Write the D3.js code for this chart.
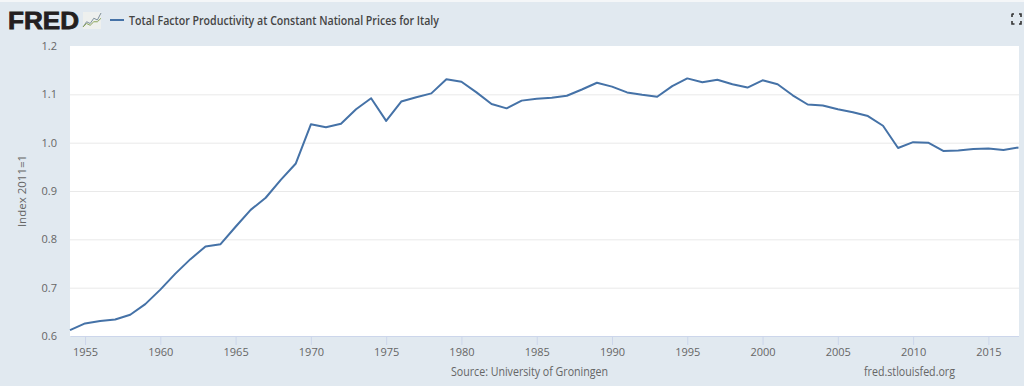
<!DOCTYPE html>
<html>
<head>
<meta charset="utf-8">
<script src="https://cdn.jsdelivr.net/npm/d3@7"></script>
<style>
    html, body { margin: 0; padding: 0; background: #e1e9f0; overflow: hidden; }
    text { font-family: "Open Sans", sans-serif; }
</style>
</head>
<body>
<div id="chart"></div>
<script>
const years = d3.range(1954, 2018);
const tfp = [
    0.612, 0.626, 0.631, 0.634, 0.644, 0.666, 0.696, 0.729, 0.759, 0.785,
    0.790, 0.826, 0.861, 0.886, 0.923, 0.957, 1.038, 1.032, 1.039, 1.069,
    1.092, 1.045, 1.085, 1.094, 1.102, 1.131, 1.126, 1.104, 1.080, 1.071,
    1.087, 1.091, 1.093, 1.097, 1.110, 1.124, 1.116, 1.104, 1.099, 1.095,
    1.117, 1.133, 1.125, 1.130, 1.121, 1.114, 1.129, 1.121, 1.098, 1.079,
    1.077, 1.069, 1.063, 1.055, 1.035, 0.989, 1.001, 1.000, 0.983, 0.984,
    0.987, 0.988, 0.985, 0.990
];
const xTicks = [1955, 1960, 1965, 1970, 1975, 1980, 1985, 1990, 1995, 2000, 2005, 2010, 2015];
const yTicks = [0.6, 0.7, 0.8, 0.9, 1.0, 1.1, 1.2];
const iconUp = [0, 3, 2, 5, 4, 8];
const iconLow = [0, 2, 1, 3, 3, 5];

const w = 1024, h = 386;
const margin = { top: 46, right: 5, bottom: 50, left: 70 };
const blue = "#4572a7";

const svg = d3.select("#chart").append("svg")
    .attr("width", w)
    .attr("height", h)
    .style("display", "block");

svg.append("rect").attr("width", w).attr("height", 2).attr("fill", "#f4f6f8");

svg.append("rect")
    .attr("x", margin.left)
    .attr("y", margin.top)
    .attr("width", w - margin.left - margin.right)
    .attr("height", h - margin.top - margin.bottom)
    .attr("fill", "#fff");

// Scales
const x = d3.scaleLinear()
    .domain([1954, 2017])
    .range([margin.left, w - margin.right - 0.5]);

const y = d3.scaleLinear()
    .domain([0.6, 1.2])
    .range([h - margin.bottom, margin.top]);

// Gridlines and y labels
const yAxis = svg.append("g")
    .attr("transform", `translate(${margin.left},0)`)
    .call(d3.axisLeft(y).tickValues(yTicks).tickFormat(d3.format(".1f")).tickSize(0).tickPadding(13));
yAxis.select(".domain").remove();
yAxis.selectAll("text")
    .attr("fill", "#666")
    .style("font-size", "11px")
    .style("font-family", '"Open Sans", sans-serif');
yAxis.selectAll(".tick").filter(d => d > 0.6 && d < 1.2).append("line")
    .attr("x2", w - margin.left - margin.right)
    .attr("stroke", "#e9e9e9");

// X axis
const xAxis = svg.append("g")
    .attr("transform", `translate(0,${h - margin.bottom})`)
    .call(d3.axisBottom(x).tickValues(xTicks).tickFormat(d3.format("d")).tickSize(9).tickPadding(3).tickSizeOuter(0));
xAxis.select(".domain").attr("stroke", "#ccd6eb");
xAxis.selectAll("line").attr("stroke", "#ccd6eb");
xAxis.selectAll("text")
    .attr("fill", "#666")
    .style("font-size", "11px")
    .style("font-family", '"Open Sans", sans-serif');

// Series line
const line = d3.line()
    .x((d, i) => x(years[i]))
    .y(d => y(d));

svg.append("path")
    .datum(tfp)
    .attr("d", line)
    .attr("fill", "none")
    .attr("stroke", blue)
    .attr("stroke-width", 2)
    .attr("stroke-linejoin", "round");

// Axis title
svg.append("text")
    .attr("transform", "translate(26,191) rotate(-90)")
    .attr("text-anchor", "middle")
    .attr("fill", "#666")
    .style("font-size", "11.5px")
    .text("Index 2011=1");

// Header
svg.append("text")
    .attr("x", 8)
    .attr("y", 29)
    .attr("textLength", 71)
    .attr("lengthAdjust", "spacingAndGlyphs")
    .attr("fill", "#231f20")
    .attr("stroke", "#231f20")
    .attr("stroke-width", 0.8)
    .style("font-family", '"Liberation Sans", sans-serif')
    .style("font-weight", "bold")
    .style("font-size", "24px")
    .text("FRED");

// Small logo chart
const icon = svg.append("g").attr("transform", "translate(83,12)");
icon.append("rect").attr("width", 18).attr("height", 17).attr("fill", "#eef0ee");
const ix = d3.scaleLinear().domain([0, 5]).range([0, 18]);
const iy = d3.scaleLinear().domain([0, 8]).range([15, 1]);
const iconLine = d3.line().x((d, i) => ix(i)).y(d => iy(d));
icon.append("path").attr("d", iconLine(iconUp)).attr("fill", "none").attr("stroke", "#7d8f9b").attr("stroke-width", 1);
icon.append("path").attr("d", iconLine(iconLow)).attr("fill", "none").attr("stroke", "#8aa55a").attr("stroke-width", 1);

svg.append("line")
    .attr("x1", 110).attr("x2", 124)
    .attr("y1", 20).attr("y2", 20)
    .attr("stroke", blue)
    .attr("stroke-width", 2);

svg.append("text")
    .attr("x", 129)
    .attr("y", 25)
    .attr("textLength", 310)
    .attr("lengthAdjust", "spacingAndGlyphs")
    .attr("fill", "#444")
    .style("font-size", "13px")
    .style("font-weight", 600)
    .text("Total Factor Productivity at Constant National Prices for Italy");

// Fullscreen icon
svg.append("path")
    .attr("d", "M1014 14h-1.5a1 1 0 0 0-.5.5v2.5M1019 14h2v3M1012 21v3h2.5M1021 21v3h-2")
    .attr("fill", "none")
    .attr("stroke", "#333")
    .attr("stroke-width", 1.6);

// Footer
svg.append("text")
    .attr("x", 451)
    .attr("y", 376)
    .attr("textLength", 157)
    .attr("lengthAdjust", "spacingAndGlyphs")
    .attr("fill", "#666")
    .style("font-size", "12px")
    .text("Source: University of Groningen");

svg.append("text")
    .attr("x", 864)
    .attr("y", 376)
    .attr("textLength", 91)
    .attr("lengthAdjust", "spacingAndGlyphs")
    .attr("fill", "#666")
    .style("font-size", "12px")
    .text("fred.stlouisfed.org");
</script>
</body>
</html>
